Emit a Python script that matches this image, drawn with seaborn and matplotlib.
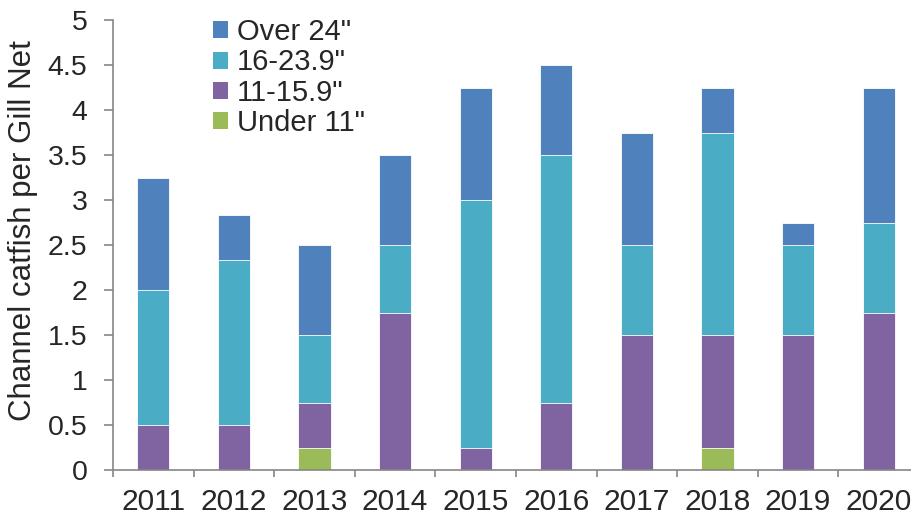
import numpy as np
import pandas as pd
import matplotlib
matplotlib.use("Agg")
import matplotlib.pyplot as plt
import seaborn as sns
from matplotlib.patches import Patch
from matplotlib.ticker import FixedLocator

years = ["2011", "2012", "2013", "2014", "2015", "2016", "2017", "2018", "2019", "2020"]
under_11 = [0, 0, 0.25, 0, 0, 0, 0, 0.25, 0, 0]
s11_15 = [0.5, 0.5, 0.5, 1.75, 0.25, 0.75, 1.5, 1.25, 1.5, 1.75]
s16_23 = [1.5, 1.83, 0.75, 0.75, 2.75, 2.75, 1.0, 2.25, 1.0, 1.0]
over_24 = [1.25, 0.5, 1.0, 1.0, 1.25, 1.0, 1.25, 0.5, 0.25, 1.5]

series_names = ['Over 24"', '16-23.9"', '11-15.9"', 'Under 11"']
colors = {'Over 24"': "#4F81BD", '16-23.9"': "#4BACC6", '11-15.9"': "#8064A2", 'Under 11"': "#9BBB59"}

sns.set_theme(style="white")
plt.rcParams['font.family'] = ['Liberation Sans', 'DejaVu Sans']

c1 = np.array(under_11)
c2 = c1 + np.array(s11_15)
c3 = c2 + np.array(s16_23)
c4 = c3 + np.array(over_24)

fig = plt.figure(figsize=(9.12, 5.19), dpi=100)
ax = fig.add_axes([113/912, 1 - 470/519, (919 - 113)/912, (470 - 20)/519])

for name, vals in [('Over 24"', c4), ('16-23.9"', c3), ('11-15.9"', c2), ('Under 11"', c1)]:
    df = pd.DataFrame({"year": years, "value": vals})
    sns.barplot(data=df, x="year", y="value", color=colors[name], width=0.4,
                edgecolor="white", linewidth=0.6, saturation=1, ax=ax, errorbar=None)

ax.set_xlim(-0.5, 9.5)
ax.set_ylim(0, 5)
ax.set_yticks(np.arange(0, 5.01, 0.5))
ax.set_yticklabels(["0", "0.5", "1", "1.5", "2", "2.5", "3", "3.5", "4", "4.5", "5"])
ax.set_xlabel("")
ax.set_ylabel("Channel catfish per Gill Net", fontsize=22.5)
ax.yaxis.set_label_coords(-0.093, 0.533)

ax.xaxis.set_minor_locator(FixedLocator(np.arange(-0.5, 10, 1)))
ax.tick_params(axis="x", which="major", length=0, labelsize=21.5, pad=13)
ax.tick_params(axis="x", which="minor", length=5, width=1.2, color="#868686", direction="out", bottom=True)
ax.tick_params(axis="y", which="major", length=6.5, width=1.2, color="#868686", direction="out", left=True, labelsize=20.5, pad=12)

for s in ["top", "right"]:
    ax.spines[s].set_visible(False)
for s in ["left", "bottom"]:
    ax.spines[s].set_color("#868686")
    ax.spines[s].set_linewidth(1.2)

handles = [Patch(facecolor=colors[n], edgecolor="none", label=n) for n in series_names]
ax.legend(handles=handles, loc="upper left", bbox_to_anchor=(0.11, 1.03), frameon=False,
          fontsize=21, handlelength=0.52, handleheight=0.52, handletextpad=0.3,
          labelspacing=0.08, borderaxespad=0)

fig.savefig("out.png", dpi=100)
